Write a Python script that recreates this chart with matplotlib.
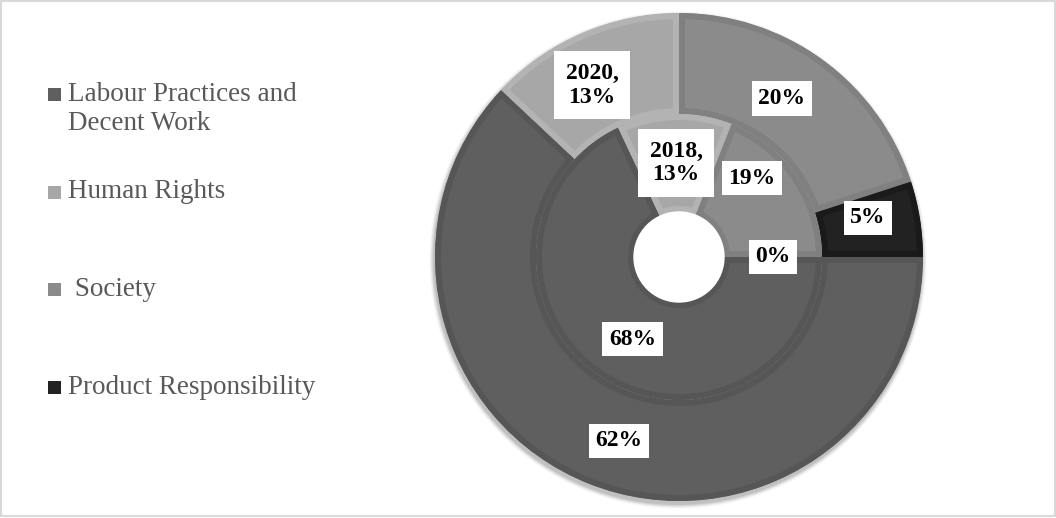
import matplotlib
matplotlib.use("Agg")
import matplotlib.pyplot as plt
import numpy as np
from matplotlib.patches import Rectangle, Circle

# Categories and shares (%) for the two reporting years
categories = ["Labour Practices and\nDecent Work", "Human Rights", " Society", "Product Responsibility"]
share_2018 = [68, 13, 19, 0]
share_2020 = [62, 13, 20, 5]
years = ["2018", "2020"]

fill_colors = ["#5f5f5f", "#a7a7a7", "#8b8b8b", "#222222"]
band_colors = ["#565656", "#b3b3b3", "#808080", "#1a1a1a"]

W, H = 1056, 518
fig = plt.figure(figsize=(W / 100, H / 100), dpi=100)
ax = fig.add_axes([0, 0, 1, 1])

cx, cy = 679, H - 257
r_hole, r_mid, r_out = 45, 143, 244
band_px = 6
serif = "Liberation Serif"

# small nudges (screen px, dx right / dy down) for crowded labels
label_nudge = {("2018", 2): (-5, -26), ("2018", 0): (4, 3),
               ("2020", 0): (11, 4), ("2020", 1): (-10, 6),
               ("2020", 2): (-11, -2), ("2020", 3): (-2, -9)}

# soft drop shadow under the outer ring
for k, a in zip(range(6, 0, -1), [0.02, 0.03, 0.04, 0.05, 0.06, 0.07]):
    ax.add_patch(Circle((cx - 1, cy - 3), r_out + k * 0.8, color="black", alpha=a,
                        lw=0, zorder=0))


def draw_ring(values, r_outer, r_inner, year):
    wedges, _ = ax.pie(values, radius=r_outer, center=(cx, cy), startangle=0,
                       counterclock=False, colors=fill_colors,
                       wedgeprops=dict(width=r_outer - r_inner, linewidth=0))
    for w, bc in zip(wedges, band_colors):
        w.set_edgecolor(bc)
        w.set_linewidth(2 * band_px * 0.72)
        w.set_clip_on(True)
        w.set_clip_path(w)
        w.set_zorder(1)
    total = sum(values)
    start = 0.0
    rr = (r_outer + r_inner) / 2
    for i, v in enumerate(values):
        sweep = 360.0 * v / total
        mid = np.deg2rad(start - sweep / 2)
        start -= sweep
        multiline = categories[i].strip() == "Human Rights"
        txt = f"{year},\n{v}%" if multiline else f"{v}%"
        dx, dy = label_nudge.get((year, i), (0, 0))
        ax.text(cx + rr * np.cos(mid) + dx, cy + rr * np.sin(mid) - dy, txt,
                ha="center", va="center", fontsize=17, fontweight="bold",
                family=serif, color="black", linespacing=1.15,
                bbox=dict(boxstyle="square,pad=%s" % ("0.5" if multiline else "0.28"),
                          fc="white", ec="none"),
                zorder=5)


draw_ring(share_2020, r_out, r_mid, years[1])
draw_ring(share_2018, r_mid, r_hole, years[0])

# white centre hole
ax.add_patch(Circle((cx, cy), r_hole, color="white", zorder=4))

# legend drawn as square markers with text
leg_x, leg_y0, leg_step = 48, H - 94, 97.5
for i, (cat, col) in enumerate(zip(categories, fill_colors)):
    y = leg_y0 - i * leg_step
    ax.add_patch(Rectangle((leg_x, y - 7), 13, 13, fc=col, ec="none"))
    ax.text(leg_x + 20, y + 12, cat, ha="left", va="top", fontsize=19.5,
            family=serif, color="#595959", linespacing=1.2)

# outer chart frame
ax.add_patch(Rectangle((1, 2), W - 2, H - 3, fill=False, ec="#d9d9d9", lw=1.5))

ax.set_xlim(0, W)
ax.set_ylim(0, H)
ax.set_aspect("equal")
ax.axis("off")
fig.savefig("out.png", dpi=100)
